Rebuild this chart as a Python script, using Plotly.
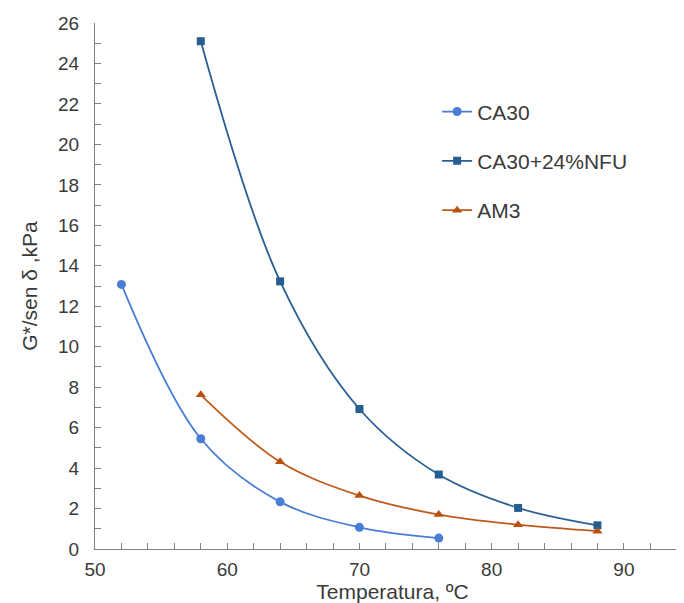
import plotly.graph_objects as go

temps_ca30 = [52, 58, 64, 70, 76]
ca30 = [13.08, 5.45, 2.33, 1.07, 0.54]

temps_nfu = [58, 64, 70, 76, 82, 88]
ca30_nfu = [25.1, 13.23, 6.92, 3.68, 2.03, 1.17]

temps_am3 = [58, 64, 70, 76, 82, 88]
am3 = [7.62, 4.31, 2.64, 1.70, 1.20, 0.88]

x_ticks = [50, 60, 70, 80, 90]
y_ticks = list(range(0, 27, 2))

font_family = "Arial, Liberation Sans, sans-serif"
text_color = "#3a3a3a"

fig = go.Figure()
fig.add_trace(go.Scatter(
    x=temps_ca30, y=ca30, name="CA30", mode="lines+markers",
    line=dict(color="#4A7DD6", width=1.8, shape="spline", smoothing=1),
    marker=dict(symbol="circle", size=9, color="#4A7DD6"),
    legendgroup="a"))
fig.add_trace(go.Scatter(
    x=temps_nfu, y=ca30_nfu, name="CA30+24%NFU", mode="lines+markers",
    line=dict(color="#2A5F94", width=1.8, shape="spline", smoothing=1),
    marker=dict(symbol="square", size=8, color="#255E91"),
    legendgroup="b"))
fig.add_trace(go.Scatter(
    x=temps_am3, y=am3, name="AM3", mode="lines+markers",
    line=dict(color="#C05A1C", width=1.8, shape="spline", smoothing=1),
    marker=dict(symbol="triangle-up", size=9, color="#B9520F"),
    legendgroup="c"))

axis_common = dict(
    showline=True, linecolor="#7f7f7f", linewidth=1.3,
    showgrid=False, zeroline=False, automargin=False,
    ticks="inside", ticklen=6, tickcolor="#7f7f7f", tickwidth=1.3,
    tickfont=dict(family=font_family, size=19, color=text_color),
)

fig.update_xaxes(
    range=[50, 95], tickmode="array", tickvals=x_ticks,
    ticktext=[str(v) for v in x_ticks],
    minor=dict(dtick=2, tick0=50, ticks="inside", ticklen=6,
               tickcolor="#7f7f7f", tickwidth=1.3),
    title=dict(text="Temperatura, ºC", standoff=3,
               font=dict(family=font_family, size=21, color=text_color)),
    ticklabelstandoff=3,
    **axis_common)
fig.update_yaxes(
    range=[0, 26], tickmode="array", tickvals=y_ticks,
    ticktext=[str(v) for v in y_ticks],
    minor=dict(dtick=1, tick0=0, ticks="inside", ticklen=6,
               tickcolor="#7f7f7f", tickwidth=1.3),
    title=dict(text="G*/sen δ ,kPa", standoff=14,
               font=dict(family=font_family, size=21, color=text_color)),
    ticklabelstandoff=11,
    **axis_common)

fig.update_layout(
    width=684, height=603,
    margin=dict(l=87, r=2, t=15, b=62),
    plot_bgcolor="white", paper_bgcolor="white",
    font=dict(family=font_family, color=text_color),
    legend=dict(x=0.575, y=0.87, xanchor="left", yanchor="top",
                font=dict(family=font_family, size=21, color=text_color),
                tracegroupgap=19, bgcolor="rgba(0,0,0,0)",
                itemwidth=30),
)

fig.write_html("out.html")
